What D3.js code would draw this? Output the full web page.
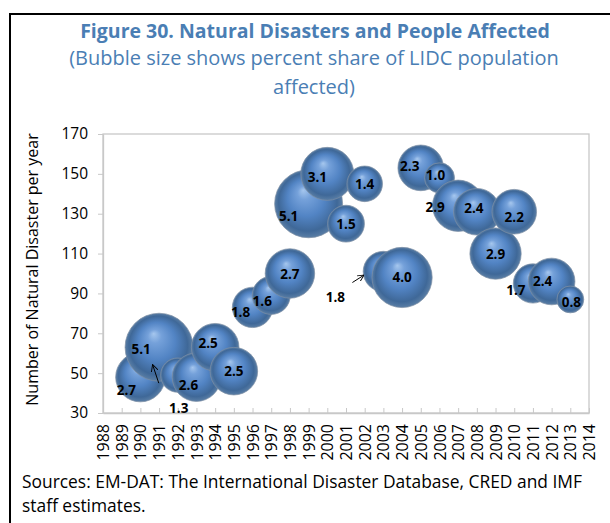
<!DOCTYPE html>
<html>
<head>
<meta charset="utf-8">
<script src="https://cdn.jsdelivr.net/npm/d3@7"></script>
<style>
  body { margin: 0; background: #fff; }
  text { font-family: "Open Sans", sans-serif; }
</style>
</head>
<body>
<div id="chart"></div>
<script>
// data
const years = [1990, 1991, 1992, 1993, 1994, 1995, 1996, 1997, 1998, 1999, 2000, 2001,
               2002, 2003, 2004, 2005, 2006, 2007, 2008, 2009, 2010, 2011, 2012, 2013];
const disasters = [48, 63, 49, 48, 63, 51, 83, 89, 100, 135, 150, 125,
                   145, 101, 98, 153, 148, 134, 131, 110, 131, 95, 96, 87];
const shareAffected = [2.7, 5.1, 1.3, 2.6, 2.5, 2.5, 1.8, 1.6, 2.7, 5.1, 3.1, 1.5,
                       1.4, 1.8, 4.0, 2.3, 1.0, 2.9, 2.4, 2.9, 2.2, 1.7, 2.4, 0.8];
const yTicks = [30, 50, 70, 90, 110, 130, 150, 170];
const xTicks = d3.range(1988, 2015);

// label placement tweaks (px from bubble centre), as in the original
const labelNudge = {
  1990: [-14, 13], 1991: [-18, 2], 1992: [1, 33], 1993: [-8, 8], 1994: [-7, -4],
  1996: [-12, 5], 1997: [-9, 6], 1999: [-20, 12], 2000: [-10, 3], 2003: [-48, 25],
  2005: [-11, -2], 2006: [-4, -3], 2007: [-23, 1], 2008: [-3, -4], 2010: [0, 5],
  2011: [-17, 7], 2012: [-9, 0], 2013: [1, 3]
};
// little arrows pointing hidden bubbles to their labels
const arrows = [
  { year: 1992, from: [-19, 8], to: [-25, -10] },
  { year: 2003, from: [-31, 11], to: [-20, 4] }
];

const width = 610, height = 523;
const margin = { top: 134, right: 21, bottom: 110, left: 103 };

const svg = d3.select("#chart").append("svg")
  .attr("width", width).attr("height", height);

const defs = svg.append("defs");
const grad = defs.append("radialGradient").attr("id", "ball")
  .attr("cx", "50%").attr("cy", "50%").attr("r", "50%")
  .attr("fx", "42%").attr("fy", "30%");
[[0, "#a6c7ee"], [0.2, "#75a1da"], [0.55, "#5284c4"], [0.86, "#3f6898"], [1, "#5a7ea5"]]
  .forEach(([o, c]) => grad.append("stop").attr("offset", o).attr("stop-color", c));
defs.append("marker").attr("id", "arrowHead")
  .attr("viewBox", "0 0 10 10").attr("refX", 9).attr("refY", 5)
  .attr("markerWidth", 7).attr("markerHeight", 7).attr("orient", "auto")
  .append("path").attr("d", "M0,0 L10,5 L0,10").attr("fill", "none")
  .attr("stroke", "#000").attr("stroke-width", 1.3);

// outer frame
svg.append("rect")
  .attr("x", 10).attr("y", 14).attr("width", 700).attr("height", 600)
  .attr("fill", "none").attr("stroke", "#000").attr("stroke-width", 2);

// titles
svg.append("text").attr("x", 315).attr("y", 38)
  .attr("text-anchor", "middle").attr("font-weight", "bold").attr("font-size", 19.5)
  .attr("fill", "#4a7eb4").text("Figure 30. Natural Disasters and People Affected");
svg.append("text").attr("x", 314).attr("y", 65)
  .attr("text-anchor", "middle").attr("font-size", 20)
  .attr("fill", "#4a7eb4").text("(Bubble size shows percent share of LIDC population");
svg.append("text").attr("x", 314).attr("y", 94)
  .attr("text-anchor", "middle").attr("font-size", 20)
  .attr("fill", "#4a7eb4").text("affected)");

const x = d3.scaleLinear().domain([1988, 2014]).range([margin.left, width - margin.right]);
const y = d3.scaleLinear().domain([30, 170]).range([height - margin.bottom, margin.top]);
const r = d3.scaleSqrt().domain([0, 5.1]).range([0, 34]);

// plot box
svg.append("rect")
  .attr("x", x(1988)).attr("y", y(170))
  .attr("width", x(2014) - x(1988)).attr("height", y(30) - y(170))
  .attr("fill", "none").attr("stroke", "#c8c8c8").attr("stroke-width", 1.3);

const xAxis = svg.append("g")
  .attr("transform", `translate(0,${y(30)})`)
  .call(d3.axisBottom(x).tickValues(xTicks).tickFormat(d3.format("d"))
    .tickSizeInner(-5).tickSizeOuter(0).tickPadding(10));
xAxis.select(".domain").attr("stroke", "#c8c8c8").attr("stroke-width", 1.3);
xAxis.selectAll(".tick line").attr("stroke", "#c8c8c8");
xAxis.selectAll("text")
  .attr("font-size", 16).attr("fill", "#000")
  .attr("transform", "rotate(-90)")
  .attr("x", -11).attr("y", 0).attr("dy", "0.35em")
  .style("text-anchor", "end");

const yAxis = svg.append("g")
  .attr("transform", `translate(${x(1988)},0)`)
  .call(d3.axisLeft(y).tickValues(yTicks).tickSizeInner(5).tickSizeOuter(0).tickPadding(10));
yAxis.select(".domain").attr("stroke", "#c8c8c8").attr("stroke-width", 1.3);
yAxis.selectAll(".tick line").attr("stroke", "#c8c8c8");
yAxis.selectAll("text").attr("font-size", 15.5).attr("fill", "#000");

svg.append("text")
  .attr("transform", `translate(38,${(y(30) + y(170)) / 2 - 4}) rotate(-90)`)
  .attr("text-anchor", "middle").attr("font-size", 16)
  .text("Number of Natural Disaster per year");

const data = years.map((yr, i) => ({ year: yr, value: disasters[i], share: shareAffected[i] }));

svg.append("g").selectAll("circle")
  .data(data)
  .join("circle")
  .attr("cx", d => x(d.year))
  .attr("cy", d => y(d.value))
  .attr("r", d => r(d.share))
  .attr("fill", "url(#ball)")
  .attr("stroke", "#7d8ea3").attr("stroke-width", 0.7);

svg.append("g").selectAll("text")
  .data(data)
  .join("text")
  .attr("x", d => x(d.year) + (labelNudge[d.year] || [0, 0])[0])
  .attr("y", d => y(d.value) + (labelNudge[d.year] || [0, 0])[1])
  .attr("text-anchor", "middle").attr("dominant-baseline", "central")
  .attr("font-size", 13.5).attr("font-weight", "bold").attr("fill", "#000")
  .text(d => d.share.toFixed(1));

svg.append("g").selectAll("line")
  .data(arrows)
  .join("line")
  .attr("x1", a => x(a.year) + a.from[0])
  .attr("y1", a => y(disasters[years.indexOf(a.year)]) + a.from[1])
  .attr("x2", a => x(a.year) + a.to[0])
  .attr("y2", a => y(disasters[years.indexOf(a.year)]) + a.to[1])
  .attr("stroke", "#000").attr("stroke-width", 1)
  .attr("marker-end", "url(#arrowHead)");

// source note
svg.append("text").attr("x", 22).attr("y", 488).attr("font-size", 17.4)
  .text("Sources: EM-DAT: The International Disaster Database, CRED and IMF");
svg.append("text").attr("x", 22).attr("y", 512).attr("font-size", 17.4)
  .text("staff estimates.");
</script>
</body>
</html>
